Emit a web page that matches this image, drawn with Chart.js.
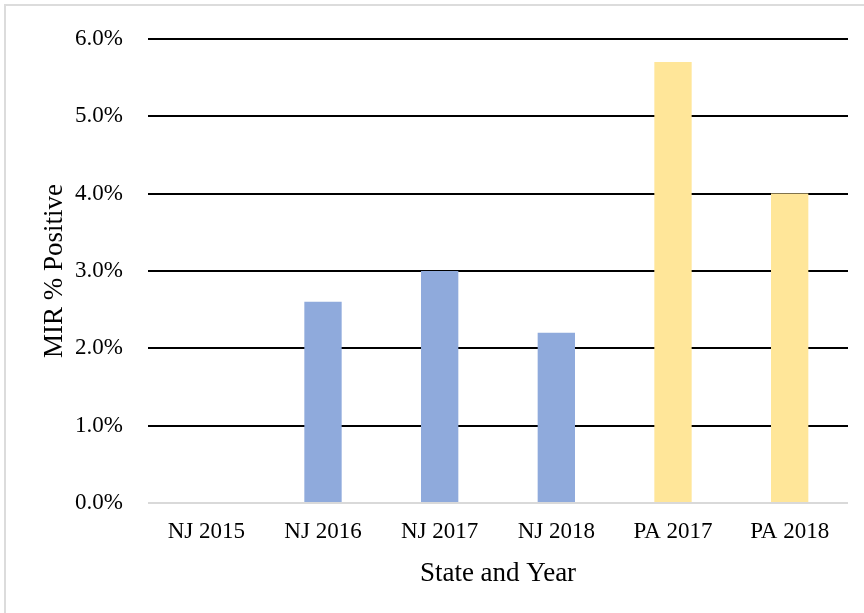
<!DOCTYPE html>
<html>
<head>
<meta charset="utf-8">
<script src="https://cdn.jsdelivr.net/npm/chart.js@4"></script>
<style>
  html, body { margin: 0; padding: 0; background: #fff; }
  #wrap { position: relative; width: 864px; height: 613px; overflow: hidden; }
  #frame {
    position: absolute; left: 4px; top: 4px; width: 900px; height: 700px;
    border-left: 2px solid #dcdcdc; border-top: 2px solid #dcdcdc;
  }
  #mirChart { position: absolute; left: 0; top: 0; }
</style>
</head>
<body>
<div id="wrap">
  <div id="frame"></div>
  <canvas id="mirChart" width="864" height="613"></canvas>
</div>
<script>
// state/year groups and their MIR positivity (%)
const categories = ["NJ 2015", "NJ 2016", "NJ 2017", "NJ 2018", "PA 2017", "PA 2018"];
const mirPositive = [0, 2.6, 3.0, 2.2, 5.7, 4.0];
const barColors = ["#8FAADC", "#8FAADC", "#8FAADC", "#8FAADC", "#FFE699", "#FFE699"];
const yTicks = [0, 1, 2, 3, 4, 5, 6];

const serif = "'Liberation Serif', 'Times New Roman', serif";

const ctx = document.getElementById("mirChart").getContext("2d");
new Chart(ctx, {
  type: "bar",
  data: {
    labels: categories,
    datasets: [{
      data: mirPositive,
      backgroundColor: barColors,
      borderWidth: 0,
      barPercentage: 0.32,
      categoryPercentage: 1.0,
    }],
  },
  options: {
    responsive: false,
    animation: false,
    layout: { padding: { left: 0, right: 16, top: 33.5, bottom: 0 } },
    plugins: {
      legend: { display: false },
      tooltip: { enabled: false },
    },
    scales: {
      x: {
        grid: { display: false, drawTicks: false },
        border: { display: false },
        ticks: {
          color: "#000",
          font: { family: serif, size: 23 },
          padding: 15,
          maxRotation: 0,
        },
        title: {
          display: true,
          text: "State and Year",
          color: "#000",
          font: { family: serif, size: 27 },
          padding: { top: 0, bottom: 23 },
        },
        afterFit: (scale) => { scale.height = 110; },
      },
      y: {
        min: 0,
        max: 6,
        afterBuildTicks: (scale) => {
          scale.ticks = yTicks.map((v) => ({ value: v }));
        },
        grid: {
          drawTicks: false,
          lineWidth: 2,
          color: (c) => (c.tick && c.tick.value === 0 ? "#d9d9d9" : "#000"),
        },
        border: { display: false },
        ticks: {
          color: "#000",
          font: { family: serif, size: 23 },
          padding: 25,
          callback: (v) => v.toFixed(1) + "%",
        },
        title: {
          display: true,
          text: "MIR % Positive",
          color: "#000",
          font: { family: serif, size: 27 },
          padding: { top: 39, bottom: 0 },
        },
        afterFit: (scale) => { scale.width = 148; },
      },
    },
  },
});
</script>
</body>
</html>
